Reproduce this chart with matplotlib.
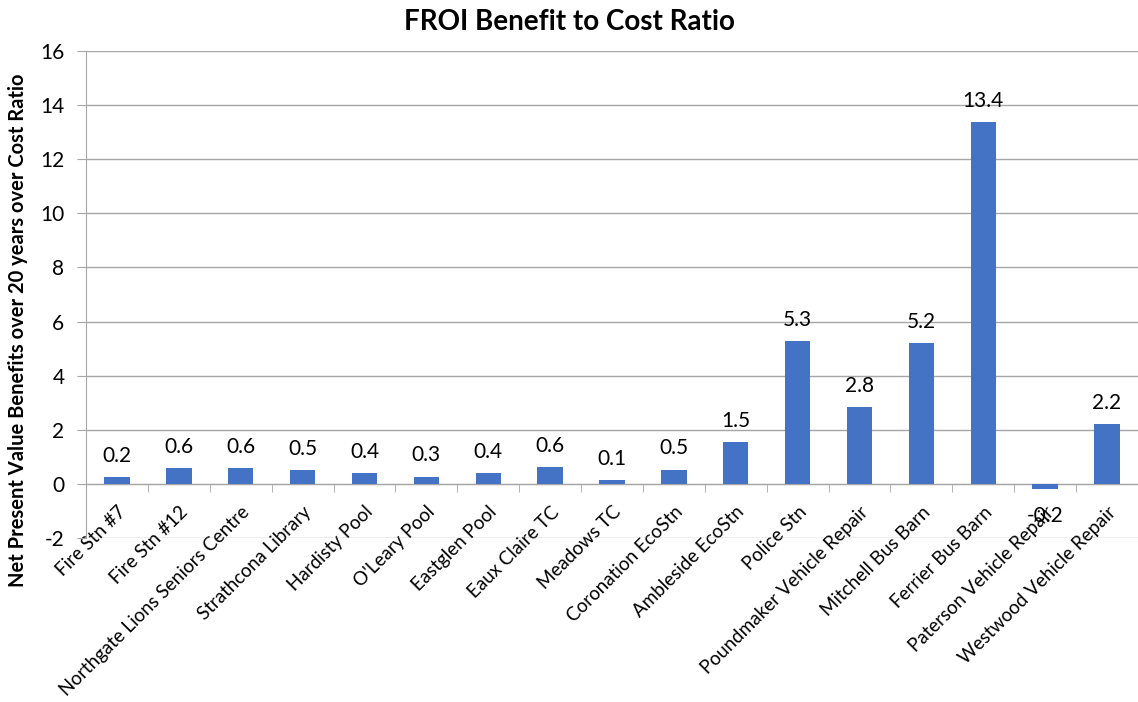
import matplotlib.pyplot as plt
import numpy as np

# project names and benefit/cost ratios
projects = ['Fire Stn #7', 'Fire Stn #12', 'Northgate Lions Seniors Centre',
            'Strathcona Library', 'Hardisty Pool', "O'Leary Pool", 'Eastglen Pool',
            'Eaux Claire TC', 'Meadows TC', 'Coronation EcoStn', 'Ambleside EcoStn',
            'Police Stn', 'Poundmaker Vehicle Repair', 'Mitchell Bus Barn',
            'Ferrier Bus Barn', 'Paterson Vehicle Repair', 'Westwood Vehicle Repair']
ratios = [0.25, 0.58, 0.58, 0.5, 0.4, 0.27, 0.4, 0.63, 0.15, 0.53, 1.53,
          5.27, 2.85, 5.2, 13.38, -0.2, 2.22]
ratio_labels = ['0.2', '0.6', '0.6', '0.5', '0.4', '0.3', '0.4', '0.6', '0.1', '0.5',
                '1.5', '5.3', '2.8', '5.2', '13.4', '-0.2', '2.2']
y_ticks = [-2, 0, 2, 4, 6, 8, 10, 12, 14, 16]

plt.rcParams['font.family'] = ['Lato', 'DejaVu Sans']
plt.rcParams['axes.unicode_minus'] = False

fig = plt.figure(figsize=(11.38, 7.02), dpi=100)
ax = fig.add_axes([86 / 1138, 1 - 538 / 702, 1 - 86 / 1138, (538 - 51) / 702])

x = np.arange(len(projects))
bars = ax.bar(x, ratios, width=0.41, color='#4472C4', zorder=3)

for b, lab, v in zip(bars, ratio_labels, ratios):
    cx = b.get_x() + b.get_width() / 2
    if v >= 0:
        ax.annotate(lab, (cx, v), xytext=(0, 8), textcoords='offset points',
                    ha='center', va='bottom', fontsize=15)
    else:
        ax.annotate(lab, (cx, v), xytext=(0, -12), textcoords='offset points',
                    ha='center', va='top', fontsize=15)

ax.set_xlim(-0.5, len(projects) - 0.5)
ax.set_ylim(-2, 16)
ax.set_yticks(y_ticks)
ax.yaxis.grid(True, color='#A6A6A6', linewidth=1.0, zorder=0)
ax.tick_params(axis='y', length=6.5, color='#A6A6A6', labelsize=15, pad=9)

# category axis crosses at zero, like the original
ax.spines['bottom'].set_position(('data', 0))
ax.spines['bottom'].set_color('#A6A6A6')
ax.spines['left'].set_color('#A6A6A6')
ax.spines['top'].set_visible(False)
ax.spines['right'].set_visible(False)
ax.set_xticks(x)
ax.set_xticklabels(projects, rotation=45, ha='right', rotation_mode='anchor',
                   fontsize=13.5)
ax.set_xticks(np.arange(len(projects) + 1) - 0.5, minor=True)
ax.tick_params(axis='x', which='major', length=0, pad=14)
ax.tick_params(axis='x', which='minor', length=6, color='#A6A6A6')

fig.text(0.5, 1 - 22 / 702, 'FROI Benefit to Cost Ratio', ha='center', va='center',
         fontsize=20, fontweight='bold')
fig.text(0.016, 0.53, 'Net Present Value Benefits over 20 years over Cost Ratio',
         rotation=90, ha='center', va='center', fontsize=14.5, fontweight='bold')

fig.savefig('out.png', dpi=100)
